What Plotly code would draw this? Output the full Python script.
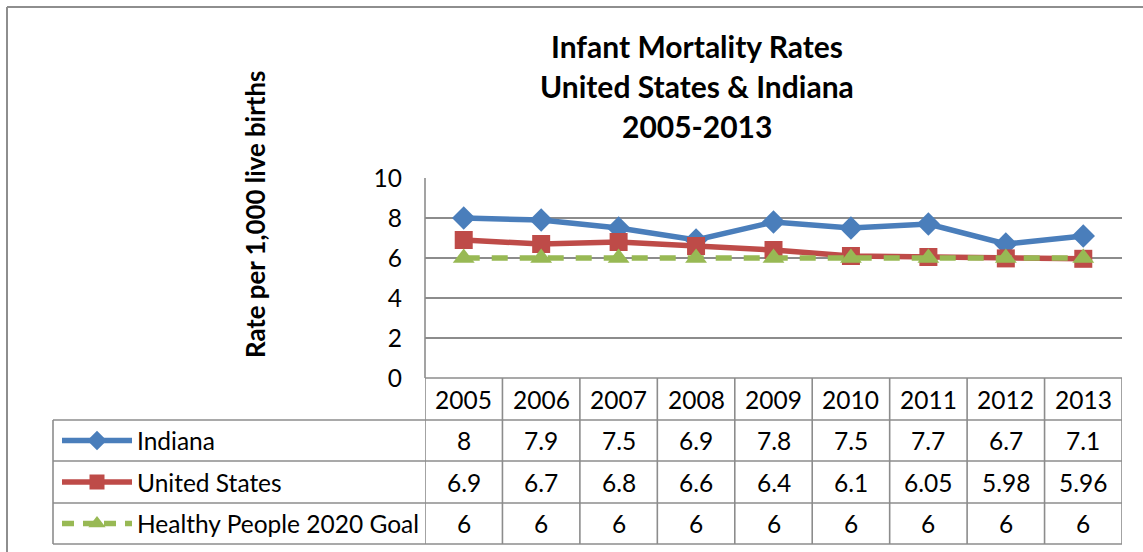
import plotly.graph_objects as go

# ---- data ----
years = ["2005", "2006", "2007", "2008", "2009", "2010", "2011", "2012", "2013"]
indiana = [8, 7.9, 7.5, 6.9, 7.8, 7.5, 7.7, 6.7, 7.1]
united_states = [6.9, 6.7, 6.8, 6.6, 6.4, 6.1, 6.05, 5.98, 5.96]
hp2020_goal = [6, 6, 6, 6, 6, 6, 6, 6, 6]
series_names = ["Indiana", "United States", "Healthy People 2020 Goal"]
y_ticks = [0, 2, 4, 6, 8, 10]
title_lines = ["Infant Mortality Rates", "United States & Indiana", "2005-2013"]
y_title = "Rate per 1,000 live births"

# ---- canvas geometry (pixels) ----
W, H = 1143, 552
PLOT_L, PLOT_R = 425, 1122
PLOT_T, PLOT_B = 178, 378
ROW_EDGES = [378, 420, 461, 503, 544]   # header row + three series rows
LEG_L = 53                               # left edge of the legend column

FONT = "Lato"
BLUE, RED, GREEN = "#4A7EBB", "#BE4B48", "#98B954"
GRID = "#8C8C8C"
TXT = "#000000"


def px(x):
    return x / W


def py(y):
    return 1 - y / H


series = [
    dict(name=series_names[0], y=indiana, color=BLUE, symbol="diamond", size=18, dash="solid"),
    dict(name=series_names[1], y=united_states, color=RED, symbol="square", size=18, dash="solid"),
    dict(name=series_names[2], y=hp2020_goal, color=GREEN, symbol="triangle-up", size=19,
         dash="16px,12px"),
]

fig = go.Figure()

for s in series:
    fig.add_trace(go.Scatter(
        x=years, y=s["y"], mode="lines+markers", name=s["name"],
        line=dict(color=s["color"], width=5.5, dash=s["dash"]),
        marker=dict(symbol=s["symbol"], size=s["size"], color=s["color"]),
        xaxis="x", yaxis="y", showlegend=False, cliponaxis=False,
    ))

# legend keys inside the data table, drawn on a pixel-space overlay axis
for i, s in enumerate(series):
    yc = (ROW_EDGES[i + 1] + ROW_EDGES[i + 2]) / 2
    fig.add_trace(go.Scatter(
        x=[62, 97, 132], y=[yc, yc, yc], mode="lines",
        line=dict(color=s["color"], width=5.5, dash="12px,9px" if s["dash"] != "solid" else "solid"),
        xaxis="x2", yaxis="y2", showlegend=False, hoverinfo="skip",
    ))
    fig.add_trace(go.Scatter(
        x=[97], y=[yc], mode="markers",
        marker=dict(symbol=s["symbol"], size=15, color=s["color"]),
        xaxis="x2", yaxis="y2", showlegend=False, hoverinfo="skip",
    ))

shapes = []
line_style = dict(color=GRID, width=1.6)

# outer chart frame (top and left edges; the rest runs off the canvas)
frame = dict(color="#8E8E8E", width=2)
shapes.append(dict(type="line", xref="paper", yref="paper",
                   x0=px(7), x1=1, y0=py(7), y1=py(7), line=frame))
shapes.append(dict(type="line", xref="paper", yref="paper",
                   x0=px(7), x1=px(7), y0=py(7), y1=0, line=frame))

# plot-area left border
shapes.append(dict(type="line", xref="paper", yref="paper",
                   x0=px(PLOT_L), x1=px(PLOT_L), y0=py(PLOT_T), y1=py(PLOT_B), line=line_style))

# data table: horizontal rules
shapes.append(dict(type="line", xref="paper", yref="paper",
                   x0=px(PLOT_L), x1=px(PLOT_R), y0=py(ROW_EDGES[0]), y1=py(ROW_EDGES[0]),
                   line=line_style))
for yr in ROW_EDGES[1:]:
    shapes.append(dict(type="line", xref="paper", yref="paper",
                       x0=px(LEG_L), x1=px(PLOT_R), y0=py(yr), y1=py(yr), line=line_style))
# data table: vertical rules at category boundaries
for k in range(len(years) + 1):
    shapes.append(dict(type="line", xref="x", yref="paper",
                       x0=k - 0.5, x1=k - 0.5, y0=py(ROW_EDGES[0]), y1=py(ROW_EDGES[-1]),
                       line=line_style))
shapes.append(dict(type="line", xref="paper", yref="paper",
                   x0=px(LEG_L), x1=px(LEG_L), y0=py(ROW_EDGES[1]), y1=py(ROW_EDGES[-1]),
                   line=line_style))

annotations = []
cell_font = dict(family=FONT, size=24.5, color=TXT)

# header row with years (x given as category index)
for k, yr in enumerate(years):
    annotations.append(dict(x=k, y=py((ROW_EDGES[0] + ROW_EDGES[1]) / 2), xref="x", yref="paper",
                            text=yr, showarrow=False, font=cell_font,
                            xanchor="center", yanchor="middle"))
# value rows
for i, s in enumerate(series):
    yc = py((ROW_EDGES[i + 1] + ROW_EDGES[i + 2]) / 2)
    annotations.append(dict(x=px(135), y=yc, xref="paper", yref="paper", text=s["name"],
                            showarrow=False, font=cell_font, xanchor="left", yanchor="middle"))
    for k, v in enumerate(s["y"]):
        annotations.append(dict(x=k, y=yc, xref="x", yref="paper", text=f"{v:g}",
                                showarrow=False, font=cell_font,
                                xanchor="center", yanchor="middle"))

# title
for j, (t, yc) in enumerate(zip(title_lines, [46, 86, 126])):
    annotations.append(dict(x=px(697), y=py(yc), xref="paper", yref="paper",
                            text=f"<b>{t}</b>", showarrow=False,
                            font=dict(family=FONT, size=30, color=TXT),
                            xanchor="center", yanchor="middle"))

# y-axis title
annotations.append(dict(x=px(255), y=py(215), xref="paper", yref="paper",
                        text=f"<b>{y_title}</b>", textangle=-90, showarrow=False,
                        font=dict(family=FONT, size=25.8, color=TXT),
                        xanchor="center", yanchor="middle"))

fig.update_layout(
    width=W, height=H, autosize=False,
    margin=dict(l=0, r=0, t=0, b=0, pad=0, autoexpand=False),
    paper_bgcolor="white", plot_bgcolor="rgba(0,0,0,0)",
    shapes=shapes, annotations=annotations,
    xaxis=dict(domain=[px(PLOT_L), px(PLOT_R)], type="category", range=[-0.5, 8.5],
               showticklabels=False, showgrid=False, zeroline=False, showline=False,
               automargin=False, fixedrange=True),
    yaxis=dict(domain=[py(PLOT_B), py(PLOT_T)], range=[0, 10], tickvals=y_ticks,
               showgrid=True, gridcolor=GRID, gridwidth=1.6, zeroline=False, showline=False,
               tickfont=dict(family=FONT, size=24.5, color=TXT), ticklabelstandoff=22,
               automargin=False, fixedrange=True),
    xaxis2=dict(domain=[0, 1], range=[0, W], anchor="y2", visible=False, fixedrange=True,
                automargin=False),
    yaxis2=dict(domain=[0, 1], range=[H, 0], anchor="x2", visible=False, fixedrange=True,
                automargin=False),
    showlegend=False,
)

fig.write_html("out.html")
